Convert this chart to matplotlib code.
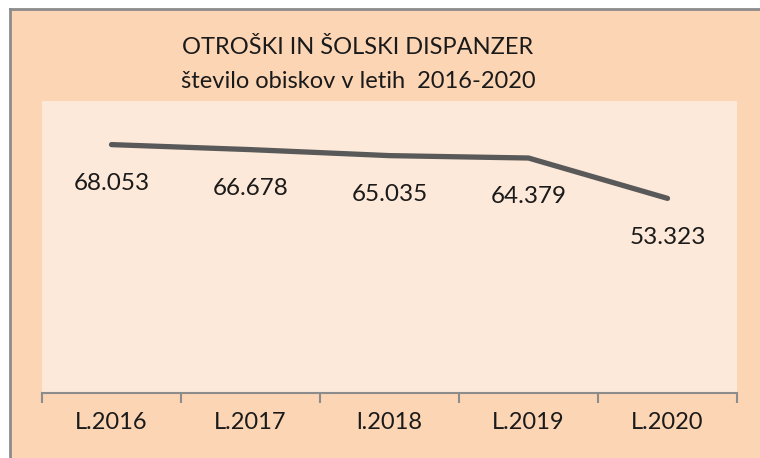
import matplotlib
matplotlib.use("Agg")
import matplotlib.pyplot as plt
from matplotlib.patches import Rectangle
from matplotlib.lines import Line2D

# data
years = ["L.2016", "L.2017", "l.2018", "L.2019", "L.2020"]
visits = [68.053, 66.678, 65.035, 64.379, 53.323]
value_labels = ["68.053", "66.678", "65.035", "64.379", "53.323"]

plt.rcParams['font.family'] = ['Lato', 'DejaVu Sans']

fig = plt.figure(figsize=(7.6, 4.58), dpi=100)
fig.patch.set_facecolor('white')

# outer chart frame: peach fill, grey border only on top and left
left_x = 10 / 760
top_y = 1 - 9 / 458
fig.add_artist(Rectangle((left_x, 0), 1 - left_x, top_y,
                         transform=fig.transFigure, facecolor='#FCD5B5',
                         edgecolor='none', zorder=-1))
fig.add_artist(Line2D([left_x, 1], [top_y, top_y], transform=fig.transFigure,
                      color='#8C8C8C', lw=2, zorder=-0.5))
fig.add_artist(Line2D([left_x, left_x], [0, top_y], transform=fig.transFigure,
                      color='#8C8C8C', lw=2, zorder=-0.5))

ax = fig.add_axes([42 / 760, 65 / 458, 695 / 760, 292 / 458])
ax.set_zorder(1)
ax.set_facecolor('#FDE9D9')

x = list(range(len(years)))
ax.plot(x, visits, color='#595959', lw=3.8, solid_capstyle='round', zorder=3)

for xi, yi, lab in zip(x, visits, value_labels):
    ax.annotate(lab, (xi, yi), xytext=(0, -28), textcoords='offset points',
                ha='center', va='center', fontsize=17.5, color='#1a1a1a')

ax.set_xlim(-0.5, len(years) - 0.5)
ax.set_ylim(0, 80)
ax.set_yticks([])
ax.set_xticks([i - 0.5 for i in range(len(years) + 1)])
ax.set_xticklabels([])
ax.set_xticks(x, minor=True)
ax.set_xticklabels(years, minor=True, fontsize=17, color='#1a1a1a')
ax.tick_params(axis='x', which='major', length=7, width=1.5, color='#8C8C8C')
ax.tick_params(axis='x', which='minor', length=0, pad=14)

for side in ['top', 'right', 'left']:
    ax.spines[side].set_visible(False)
ax.spines['bottom'].set_color('#8C8C8C')
ax.spines['bottom'].set_linewidth(1.5)

fig.text(358 / 760, 1 - 47 / 458, "OTROŠKI IN ŠOLSKI DISPANZER",
         ha='center', va='center', fontsize=17, color='#1a1a1a')
fig.text(358 / 760, 1 - 82 / 458, "število obiskov v letih  2016-2020",
         ha='center', va='center', fontsize=17, color='#1a1a1a')

fig.savefig("out.png", dpi=100)
